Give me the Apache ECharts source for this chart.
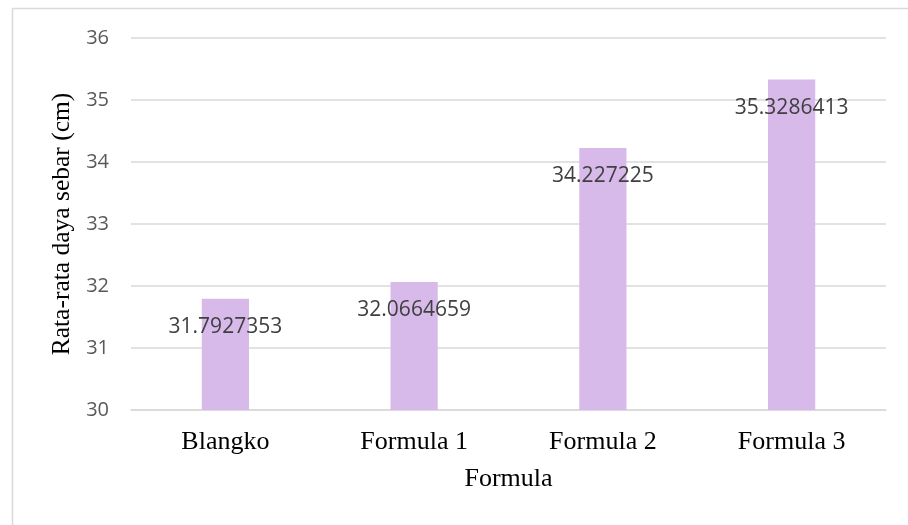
<!DOCTYPE html>
<html>
<head>
<meta charset="utf-8">
<script src="https://cdn.jsdelivr.net/npm/echarts@6/dist/echarts.min.js"></script>
<style>
  html, body { margin: 0; padding: 0; background: #ffffff; }
  #chart { width: 908px; height: 525px; }
</style>
</head>
<body>
<div id="chart"></div>
<script>
// Average spread diameter per formula
const categories = ['Blangko', 'Formula 1', 'Formula 2', 'Formula 3'];
const spreadValues = [31.7927353, 32.0664659, 34.227225, 35.3286413];
const yMin = 30;
const yMax = 36;
const yStep = 1;

const chart = echarts.init(document.getElementById('chart'), null, { renderer: 'canvas' });

const serif = '"Liberation Serif", "Times New Roman", serif';
const sans = '"Open Sans", Lato, sans-serif';

chart.setOption({
  animation: false,
  backgroundColor: '#ffffff',
  graphic: [{
    type: 'rect',
    shape: { x: 12.5, y: 8.5, width: 1000, height: 1000 },
    style: { fill: 'none', stroke: '#d9d9d9', lineWidth: 1.5 },
    silent: true,
    z: -1
  }],
  grid: { left: 131, right: 22, top: 38, bottom: 115 },
  xAxis: {
    type: 'category',
    data: categories,
    name: 'Formula',
    nameLocation: 'middle',
    nameGap: 56,
    nameTextStyle: { fontFamily: serif, fontSize: 26, color: '#000000' },
    axisLine: { show: true, lineStyle: { color: '#d9d9d9', width: 1.5 } },
    axisTick: { show: false },
    axisLabel: { fontFamily: serif, fontSize: 26, color: '#000000', margin: 19 }
  },
  yAxis: {
    type: 'value',
    min: yMin,
    max: yMax,
    interval: yStep,
    name: 'Rata-rata daya sebar (cm)',
    nameLocation: 'middle',
    nameGap: 52,
    nameRotate: 90,
    nameTextStyle: { fontFamily: serif, fontSize: 25.5, color: '#000000' },
    axisLine: { show: false },
    axisTick: { show: false },
    axisLabel: { fontFamily: sans, fontSize: 20, color: '#595959', margin: 22 },
    splitLine: { lineStyle: { color: '#d9d9d9', width: 1.5 } }
  },
  series: [{
    type: 'bar',
    data: spreadValues,
    barWidth: '25%',
    itemStyle: { color: '#d7b9ea' },
    label: {
      show: true,
      position: 'insideTop',
      distance: 18,
      fontFamily: sans,
      fontSize: 21,
      color: '#404040',
      formatter: (p) => String(p.value)
    }
  }]
});
</script>
</body>
</html>
